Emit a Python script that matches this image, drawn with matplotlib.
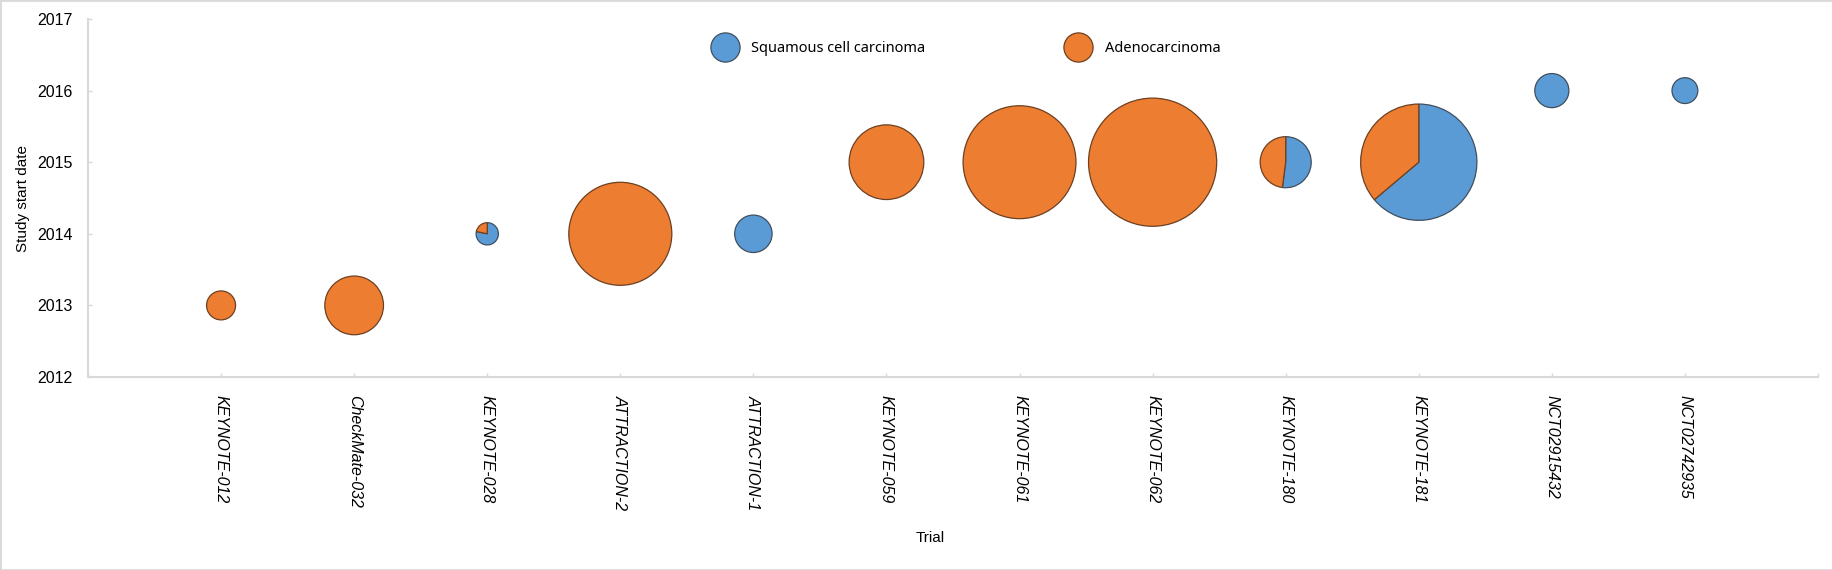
import numpy as np
import matplotlib.pyplot as plt
from matplotlib.patches import Wedge, Rectangle
from matplotlib.lines import Line2D
from matplotlib.transforms import Affine2D, ScaledTranslation

trials = ['KEYNOTE-012', 'CheckMate-032', 'KEYNOTE-028', 'ATTRACTION-2',
          'ATTRACTION-1', 'KEYNOTE-059', 'KEYNOTE-061', 'KEYNOTE-062',
          'KEYNOTE-180', 'KEYNOTE-181', 'NCT02915432', 'NCT02742935']
start_year = [2013, 2013, 2014, 2014, 2014, 2015, 2015, 2015, 2015, 2015, 2016, 2016]
# patients per histology (estimated from bubble sizes / slices)
squamous = [0, 0, 18, 0, 65, 0, 0, 0, 63, 401, 54, 31]
adeno = [39, 160, 5, 493, 0, 259, 592, 763, 58, 227, 0, 0]

blue = '#5B9BD5'
orange = '#ED7D31'
grey = '#D9D9D9'

fig = plt.figure(figsize=(18.33, 5.7), dpi=100)
ax = fig.add_axes([88/1833, 193/570, 1730/1833, 358/570])

ax.set_xlim(0, 13)
ax.set_ylim(2012, 2017)
ax.set_xticks(range(0, 14))
ax.set_xticklabels([''] + trials + [''], rotation=270, style='italic',
                   family='Liberation Sans', fontsize=11.5)
ax.set_yticks(range(2012, 2018))
ax.set_yticklabels([str(y) for y in range(2012, 2018)],
                   family='Liberation Sans', fontsize=11.5)
ax.tick_params(axis='both', direction='in', length=3, color=grey, width=1)
ax.tick_params(axis='x', pad=13)
ax.tick_params(axis='y', pad=11)
for s in ['top', 'right']:
    ax.spines[s].set_visible(False)
for s in ['left', 'bottom']:
    ax.spines[s].set_color(grey)
    ax.spines[s].set_linewidth(1.5)

ax.set_ylabel('Study start date', family='Liberation Sans', fontsize=11, labelpad=5)
ax.set_xlabel('Trial', family='Liberation Sans', fontsize=11, labelpad=15)
ax.xaxis.label.set_x(0.487)

# pie bubbles: area proportional to patient number, drawn in screen units
k = 0.0232  # inch per sqrt(patient)
for i in range(len(trials)):
    n = squamous[i] + adeno[i]
    r = k * np.sqrt(n)
    frac = squamous[i] / n
    tr = Affine2D().scale(r) + fig.dpi_scale_trans + \
        ScaledTranslation(i + 1, start_year[i], ax.transData)
    if frac > 0:
        ax.add_patch(Wedge((0, 0), 1, 90 - frac * 360, 90, transform=tr,
                           fc=blue, ec='#3F4F60', lw=0.9, zorder=3))
    if frac < 1:
        ax.add_patch(Wedge((0, 0), 1, 90 - 360, 90 - frac * 360, transform=tr,
                           fc=orange, ec='#6E4020', lw=0.9, zorder=3))

handles = [Line2D([], [], ls='', marker='o', markersize=21, mfc=blue, mec='#3F4F60', mew=0.9),
           Line2D([], [], ls='', marker='o', markersize=21, mfc=orange, mec='#6E4020', mew=0.9)]
leg = fig.legend(handles, ['Squamous cell carcinoma', 'Adenocarcinoma'], ncol=2,
                 frameon=False, loc='center left', bbox_to_anchor=(700/1833, 1 - 49/570),
                 prop={'family': 'Noto Sans', 'size': 10.5}, handlelength=2,
                 handletextpad=0.8, columnspacing=9.5, borderpad=0.2)

fig.patches.append(Rectangle((0, 0), 1, 1, transform=fig.transFigure, fill=False,
                             ec=grey, lw=2))

fig.savefig('out.png', dpi=100)
